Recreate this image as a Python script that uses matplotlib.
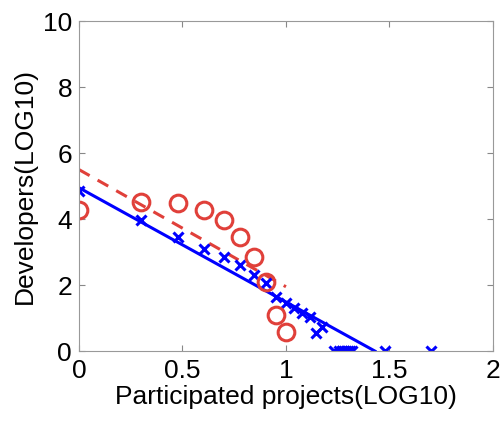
import numpy as np
import matplotlib
matplotlib.use('Agg')
from matplotlib import pyplot as plt

plt.rcParams['font.family'] = ['Liberation Sans', 'DejaVu Sans']

# red circles (observed)
red_x = [0.0, 0.301, 0.477, 0.602, 0.699, 0.778, 0.845, 0.903, 0.954, 1.0]
red_y = [4.28, 4.52, 4.48, 4.28, 3.97, 3.46, 2.86, 2.10, 1.09, 0.58]

# blue crosses
blue_x = [0.0, 0.301, 0.477, 0.602, 0.699, 0.778, 0.845, 0.903, 0.954, 1.0,
          1.041, 1.079, 1.114, 1.146, 1.176, 1.23, 1.255, 1.27, 1.28, 1.29,
          1.30, 1.31, 1.32, 1.477, 1.699]
blue_y = [4.85, 3.97, 3.45, 3.10, 2.85, 2.60, 2.30, 2.05, 1.65, 1.45,
          1.30, 1.15, 1.03, 0.54, 0.73, 0.0, 0.0, 0.0, 0.0, 0.0,
          0.0, 0.0, 0.0, 0.0, 0.0]

# fitted lines
blue_fit_x = [0.0, 1.43]
blue_fit_y = [4.95, 0.0]
red_fit_x = [0.0, 1.0]
red_fit_y = [5.5, 1.95]

fig = plt.figure(figsize=(5.03, 4.21), dpi=100)
ax = fig.add_axes([0.157, 0.166, 0.823, 0.784])

ax.plot(blue_fit_x, blue_fit_y, color='#0000ff', linewidth=2.2)
ax.plot(red_fit_x, red_fit_y, color='#e0403a', linewidth=2.2, linestyle='--', dashes=(4, 3))
ax.plot(blue_x, blue_y, 'x', color='#0000ff', markersize=7, markeredgewidth=2.2)
ax.plot(red_x, red_y, 'o', markerfacecolor='none', markeredgecolor='#e0403a',
        markersize=12, markeredgewidth=2.2)

ax.set_xlim(0, 2)
ax.set_ylim(0, 10)
ax.set_xticks([0, 0.5, 1, 1.5, 2])
ax.set_xticklabels(['0', '0.5', '1', '1.5', '2'])
ax.set_yticks([0, 2, 4, 6, 8, 10])
ax.tick_params(direction='in', top=True, right=True, labelsize=19, length=4,
               color='#888888')
ax.tick_params(axis='x', pad=6)
ax.tick_params(axis='y', pad=5)
for s in ax.spines.values():
    s.set_color('#999999')
    s.set_linewidth(0.8)
ax.set_xlabel('Participated projects(LOG10)', fontsize=19, labelpad=1)
ax.set_ylabel('Developers(LOG10)', fontsize=19, labelpad=4)

fig.savefig('out.png', dpi=100)
